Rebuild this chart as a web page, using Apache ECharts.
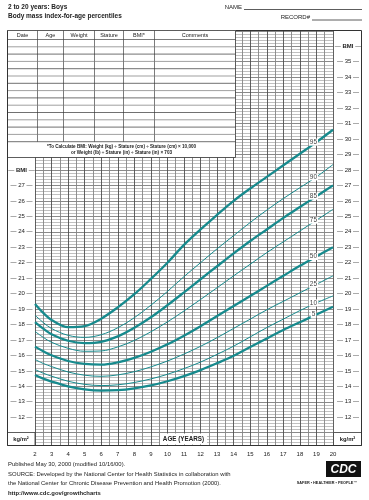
<!DOCTYPE html>
<html><head><meta charset="utf-8">
<script src="https://cdn.jsdelivr.net/npm/echarts@6/dist/echarts.min.js"></script>
<style>html,body{margin:0;padding:0;background:#fff}#c{width:369px;height:500px}</style>
</head><body><div id="c"></div>
<script>
// ---- data (BMI-for-age percentiles, boys) ----
const ages = [2, 2.5, 3, 4, 5, 6, 7, 8, 9, 10, 11, 12, 13, 14, 15, 16, 17, 18, 19, 20];
const p5  = [14.74,14.50,14.31,14.00,13.80,13.72,13.75,13.87,14.06,14.33,14.66,15.05,15.50,15.98,16.55,17.10,17.65,18.15,18.65,19.15];
const p10 = [15.09,14.85,14.66,14.33,14.13,14.05,14.10,14.25,14.48,14.78,15.15,15.57,16.07,16.60,17.20,17.80,18.35,18.90,19.40,19.85];
const p25 = [15.74,15.48,15.28,14.93,14.72,14.65,14.74,14.95,15.26,15.64,16.09,16.59,17.15,17.75,18.35,18.95,19.50,20.05,20.60,21.15];
const p50 = [16.57,16.27,16.01,15.64,15.45,15.40,15.55,15.84,16.24,16.72,17.28,17.89,18.55,19.20,19.85,20.50,21.15,21.80,22.40,23.00];
const p75 = [17.55,17.17,16.85,16.46,16.27,16.29,16.55,16.97,17.53,18.17,18.88,19.62,20.38,21.15,21.90,22.65,23.35,24.05,24.75,25.45];
const p85 = [18.16,17.73,17.37,16.95,16.80,16.88,17.23,17.79,18.47,19.25,20.08,20.93,21.77,22.60,23.40,24.15,24.90,25.60,26.30,27.00];
const p90 = [18.60,18.13,17.74,17.30,17.17,17.34,17.79,18.44,19.25,20.14,21.10,22.00,22.90,23.75,24.60,25.40,26.15,26.85,27.55,28.35];
const p95 = [19.33,18.75,18.30,17.83,17.90,18.38,19.11,19.96,20.95,22.00,23.15,24.15,25.10,26.00,26.80,27.55,28.30,29.05,29.80,30.60];
const percentileNames = ['5','10','25','50','75','85','90','95'];
const percentileValues = [p5, p10, p25, p50, p75, p85, p90, p95];
const thickPercentiles = ['5','50','85','95'];
const labelAge = 19;
const ageTickLabels = [2,3,4,5,6,7,8,9,10,11,12,13,14,15,16,17,18,19,20];
const leftBmiLabels = [12,13,14,15,16,17,18,19,20,21,22,23,24,25,26,27];
const rightBmiLabels = [12,13,14,15,16,17,18,19,20,21,22,23,24,25,26,27,28,29,30,31,32,33,34,35];
const leftBmiTitleAt = 28, rightBmiTitleAt = 36;
const tableHeaders = ['Date','Age','Weight','Stature','BMI*','Comments'];

// ---- styles ----
const FONT = "'Liberation Sans', Arial, sans-serif";
const TEAL = '#178a8d';
const INK = '#222';

function isInt(v){ return Math.abs(v - Math.round(v)) < 1e-6; }
function yFmt(list, titleAt){
  return function(v){
    const r = Math.round(v);
    if (!isInt(v)) return '';
    if (list.includes(r)) return '— ' + r + ' —';
    if (r === titleAt) return '— {b|BMI} —';
    return '';
  };
}

const series = percentileNames.map((name, k) => ({
  type: 'line', name: name, symbol: 'none', smooth: 0.35, silent: true, animation: false,
  z: 3,
  lineStyle: { color: TEAL, width: thickPercentiles.includes(name) ? 2.3 : 1 },
  data: ages.map((a, i) => a === labelAge ? {
    value: [a, percentileValues[k][i]], symbol: 'circle', symbolSize: 1,
    itemStyle: { color: TEAL },
    label: { show: true, position: 'inside', formatter: name, offset: [-3, 0],
      fontSize: 6.5, fontFamily: FONT, color: '#444', backgroundColor: '#fff',
      padding: [0, 1], lineHeight: 7 }
  } : [a, percentileValues[k][i]])
}));

// ---- decorations (graphic) ----
const G = [];
function txt(x, y, text, size, opts){
  opts = opts || {};
  G.push({ type: 'text', z: 60, silent: true, style: {
    x: x, y: y, text: text, fill: opts.fill || INK,
    font: (opts.bold ? 'bold ' : '') + (opts.italic ? 'italic ' : '') + size + 'px ' + FONT,
    align: opts.align || 'left', textAlign: opts.align || 'left',
    verticalAlign: 'middle', textVerticalAlign: 'middle' } });
}
function line(x1, y1, x2, y2, color, w){
  G.push({ type: 'line', z: 61, silent: true, shape: {x1, y1, x2, y2},
    style: { stroke: color || '#333', lineWidth: w || 1 } });
}
function rect(x, y, w, h, fill, stroke, lw, z){
  G.push({ type: 'rect', z: z || 55, silent: true, shape: {x, y, width: w, height: h},
    style: { fill: fill || 'none', stroke: stroke || null, lineWidth: lw || 1 } });
}

// header
txt(8, 7, '2 to 20 years: Boys', 6.5, {bold: true});
txt(8, 16, 'Body mass index-for-age percentiles', 6.5, {bold: true});
txt(242, 7, 'NAME', 6, {align: 'right'});
line(244, 9.5, 362, 9.5, '#333', 0.8);
txt(310, 17.5, 'RECORD#', 6, {align: 'right'});
line(312, 20, 362, 20, '#333', 0.8);

// table
const tL = 7.5, tR = 235.5, tTop = 30.5, tHead = 39.5, rowH = 7.3, nRows = 14;
const noteTop = tHead + rowH * nRows, tBot = 157.5;
rect(tL, tTop, tR - tL, tBot - tTop, '#fff', '#333', 0.8, 55);
const colX = [tL, 37.5, 63.5, 94.5, 123.5, 154.5, tR];
for (let c = 1; c < colX.length - 1; c++) line(colX[c], tTop, colX[c], noteTop, '#444', 0.7);
line(tL, tHead, tR, tHead, '#444', 0.7);
for (let r = 1; r <= nRows; r++) line(tL, tHead + r * rowH, tR, tHead + r * rowH, (r === nRows || r % 2 === 0) ? '#333' : '#777', 0.7);
tableHeaders.forEach((h, i) => txt((colX[i] + colX[i + 1]) / 2, 35, h, 5.5, {align: 'center'}));
txt(121.5, 146.5, '*To Calculate BMI: Weight (kg) ÷ Stature (cm) ÷ Stature (cm) × 10,000', 4.6, {bold: true, align: 'center'});
txt(121.5, 153, 'or Weight (lb) ÷ Stature (in) ÷ Stature (in) × 703', 4.6, {bold: true, align: 'center'});

// outer frame
line(7.5, 30.5, 7.5, 445.5, '#333', 1);
line(361.5, 30.5, 361.5, 445.5, '#333', 1);
line(235.5, 30.5, 361.5, 30.5, '#333', 1);
line(7.5, 445.5, 361.5, 445.5, '#333', 1);

// bottom row boxes
rect(7.5, 432.5, 27.5, 13, '#fff', '#333', 0.8, 56);
txt(21, 439, 'kg/m²', 5.8, {bold: true, align: 'center'});
rect(333.5, 432.5, 28, 13, '#fff', '#333', 0.8, 56);
txt(347.5, 439, 'kg/m²', 5.8, {bold: true, align: 'center'});
rect(160, 433.5, 47, 11, '#fff', null, 0, 56);
txt(183.5, 439.5, 'AGE (YEARS)', 6.3, {bold: true, align: 'center'});

// footer
txt(8, 464.5, 'Published May 30, 2000 (modified 10/16/00).', 5.9);
txt(8, 474, 'SOURCE: Developed by the National Center for Health Statistics in collaboration with', 5.9);
txt(8, 483.5, 'the National Center for Chronic Disease Prevention and Health Promotion (2000).', 5.9);
txt(8, 493, 'http://www.cdc.gov/growthcharts', 5.9, {bold: true});
rect(326, 461, 35, 16, '#111', null, 0, 56);
txt(343.5, 469.5, 'CDC', 12, {bold: true, italic: true, align: 'center', fill: '#fff'});
txt(327, 482.5, 'SAFER • HEALTHIER • PEOPLE™', 3.8, {bold: true, align: 'center'});

const yCommon = {
  type: 'value', min: 10.2, max: 37, interval: 0.2,
  axisLine: { show: false }, axisTick: { show: false }
};

const option = {
  animation: false,
  backgroundColor: '#fff',
  grid: { left: 35, top: 30.8, width: 298, height: 414.3, containLabel: false },
  xAxis: {
    type: 'value', min: 2, max: 20, interval: 0.5,
    axisLine: { show: false }, axisTick: { show: false },
    splitLine: { show: true, lineStyle: { color: ['#4e4e4e', '#858585'], width: 0.9 } },
    axisLabel: { margin: 6, fontSize: 6, fontFamily: FONT, color: INK,
      formatter: v => ageTickLabels.includes(v) ? String(v) : '' }
  },
  yAxis: [
    Object.assign({}, yCommon, {
      position: 'left',
      splitLine: { show: true, lineStyle: { color: ['#ababab','#ababab','#ababab','#ababab','#636363'], width: 0.75 } },
      axisLabel: { align: 'center', margin: 13.5, fontSize: 6, fontFamily: FONT, color: INK,
        formatter: yFmt(leftBmiLabels, leftBmiTitleAt),
        rich: { b: { fontWeight: 'bold', fontSize: 6, fontFamily: FONT, color: INK } } }
    }),
    Object.assign({}, yCommon, {
      position: 'right',
      splitLine: { show: false },
      axisLabel: { align: 'center', margin: 15, fontSize: 6, fontFamily: FONT, color: INK,
        formatter: yFmt(rightBmiLabels, rightBmiTitleAt),
        rich: { b: { fontWeight: 'bold', fontSize: 6, fontFamily: FONT, color: INK } } }
    })
  ],
  series: series,
  graphic: { elements: G }
};

const chart = echarts.init(document.getElementById('c'), null, { renderer: 'canvas' });
chart.setOption(option);
</script></body></html>
